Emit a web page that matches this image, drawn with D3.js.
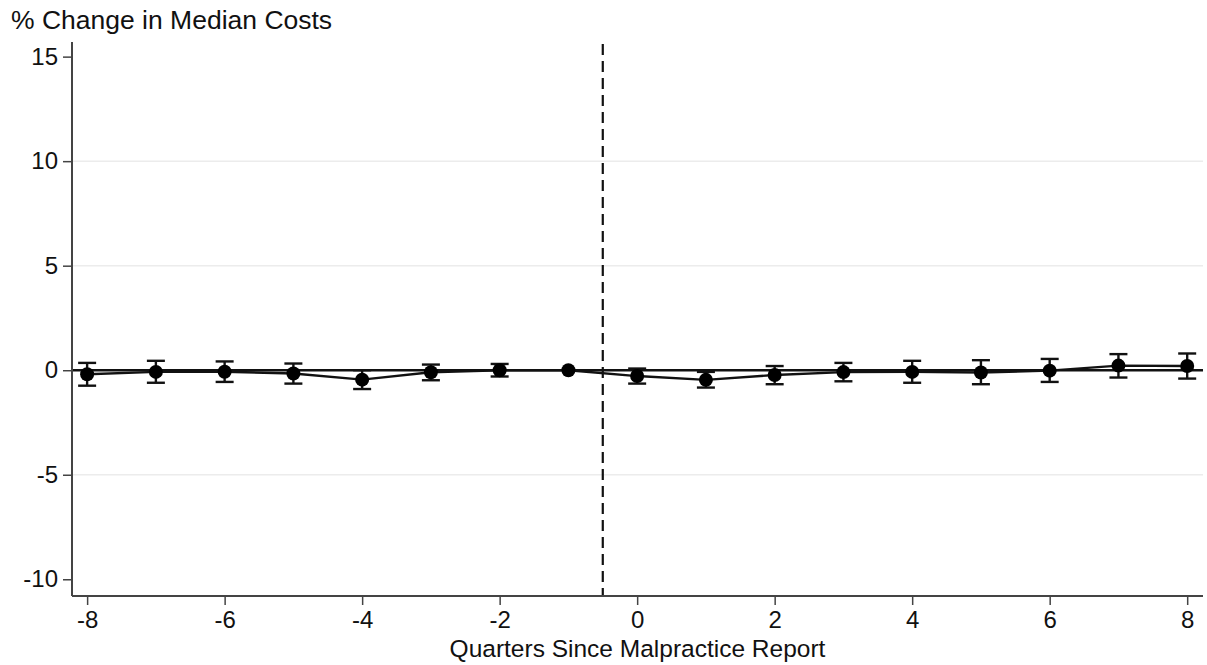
<!DOCTYPE html>
<html>
<head>
<meta charset="utf-8">
<script src="https://cdn.jsdelivr.net/npm/d3@7"></script>
<style>
  html, body { margin: 0; padding: 0; background: #fff; }
  svg text { font-family: "Liberation Sans", Arial, Helvetica, sans-serif; fill: #111; }
</style>
</head>
<body>
<svg id="chart" width="1207" height="665"></svg>
<script>
// Event-study estimates: quarters relative to the malpractice report
const quarters = [-8, -7, -6, -5, -4, -3, -2, -1, 0, 1, 2, 3, 4, 5, 6, 7, 8];
const estimate = [-0.19, -0.08, -0.07, -0.16, -0.45, -0.1, 0.0, 0.0, -0.28, -0.46, -0.23, -0.09, -0.08, -0.11, -0.02, 0.22, 0.2];
const ciLower  = [-0.74, -0.6, -0.56, -0.64, -0.9, -0.48, -0.3, null, -0.64, -0.83, -0.67, -0.53, -0.6, -0.67, -0.56, -0.35, -0.4];
const ciUpper  = [0.35, 0.45, 0.42, 0.32, 0.0, 0.27, 0.3, null, 0.08, -0.08, 0.2, 0.35, 0.45, 0.48, 0.54, 0.77, 0.8];
const yTicks = [-10, -5, 0, 5, 10, 15];
const xTicks = [-8, -6, -4, -2, 0, 2, 4, 6, 8];
const gridValues = [-5, 5, 10];
const eventLine = -0.5;

const rows = quarters.map((q, i) => ({ q, est: estimate[i], lo: ciLower[i], hi: ciUpper[i] }));

const svg = d3.select("#chart");
const plotLeft = 72, plotRight = 1203, plotTop = 42, plotBottom = 596;

const x = d3.scaleLinear().domain([-8.22, 8.23]).range([plotLeft, plotRight]);
const y = d3.scaleLinear().domain([-10.8, 15.7]).range([plotBottom, plotTop]);

// Light horizontal grid
svg.append("g").selectAll("line").data(gridValues).join("line")
  .attr("x1", plotLeft).attr("x2", plotRight)
  .attr("y1", d => y(d)).attr("y2", d => y(d))
  .attr("stroke", "#ececec").attr("stroke-width", 1.5);

// Reference line at zero
svg.append("line")
  .attr("x1", plotLeft).attr("x2", plotRight)
  .attr("y1", y(0)).attr("y2", y(0))
  .attr("stroke", "#111").attr("stroke-width", 2.4);

// Dashed line marking the report date
svg.append("line")
  .attr("x1", x(eventLine)).attr("x2", x(eventLine))
  .attr("y1", plotTop + 2).attr("y2", plotBottom)
  .attr("stroke", "#111").attr("stroke-width", 2.2)
  .attr("stroke-dasharray", "11,6");

const minusFmt = d => d < 0 ? "-" + Math.abs(d) : String(d);

// Y axis
const yAxis = d3.axisLeft(y).tickValues(yTicks).tickSize(9).tickPadding(5).tickFormat(minusFmt);
const gy = svg.append("g").attr("transform", `translate(${plotLeft},0)`).call(yAxis);
gy.select(".domain").attr("d", `M0,${plotTop}V${plotBottom}`).attr("stroke", "#444").attr("stroke-width", 2);
gy.selectAll(".tick line").attr("stroke", "#444").attr("stroke-width", 1.5);
gy.selectAll(".tick text").attr("font-size", 24).attr("fill", "#111");

// X axis
const xAxis = d3.axisBottom(x).tickValues(xTicks).tickSize(9).tickPadding(6).tickFormat(minusFmt);
const gx = svg.append("g").attr("transform", `translate(0,${plotBottom})`).call(xAxis);
gx.select(".domain").attr("d", `M${plotLeft},0H${plotRight}`).attr("stroke", "#444").attr("stroke-width", 2);
gx.selectAll(".tick line").attr("stroke", "#444").attr("stroke-width", 1.5);
gx.selectAll(".tick text").attr("font-size", 24).attr("fill", "#111");

// Confidence intervals
const ci = rows.filter(r => r.lo !== null);
const capHalf = 9;
const bars = svg.append("g").attr("stroke", "#111").attr("stroke-width", 2.4);
bars.selectAll("line.v").data(ci).join("line").attr("class", "v")
  .attr("x1", d => x(d.q)).attr("x2", d => x(d.q))
  .attr("y1", d => y(d.hi)).attr("y2", d => y(d.lo));
bars.selectAll("line.t").data(ci).join("line").attr("class", "t")
  .attr("x1", d => x(d.q) - capHalf).attr("x2", d => x(d.q) + capHalf)
  .attr("y1", d => y(d.hi)).attr("y2", d => y(d.hi));
bars.selectAll("line.b").data(ci).join("line").attr("class", "b")
  .attr("x1", d => x(d.q) - capHalf).attr("x2", d => x(d.q) + capHalf)
  .attr("y1", d => y(d.lo)).attr("y2", d => y(d.lo));

// Connected estimates
svg.append("path").datum(rows)
  .attr("fill", "none").attr("stroke", "#111").attr("stroke-width", 2.4)
  .attr("d", d3.line().x(d => x(d.q)).y(d => y(d.est)));

svg.append("g").selectAll("circle").data(rows).join("circle")
  .attr("cx", d => x(d.q)).attr("cy", d => y(d.est)).attr("r", 7)
  .attr("fill", "#000");

// Titles
svg.append("text").attr("x", 11).attr("y", 29).attr("font-size", 26.5)
  .text("% Change in Median Costs");
svg.append("text").attr("x", (plotLeft + plotRight) / 2).attr("y", 657).attr("font-size", 24.5)
  .attr("text-anchor", "middle").text("Quarters Since Malpractice Report");
</script>
</body>
</html>
